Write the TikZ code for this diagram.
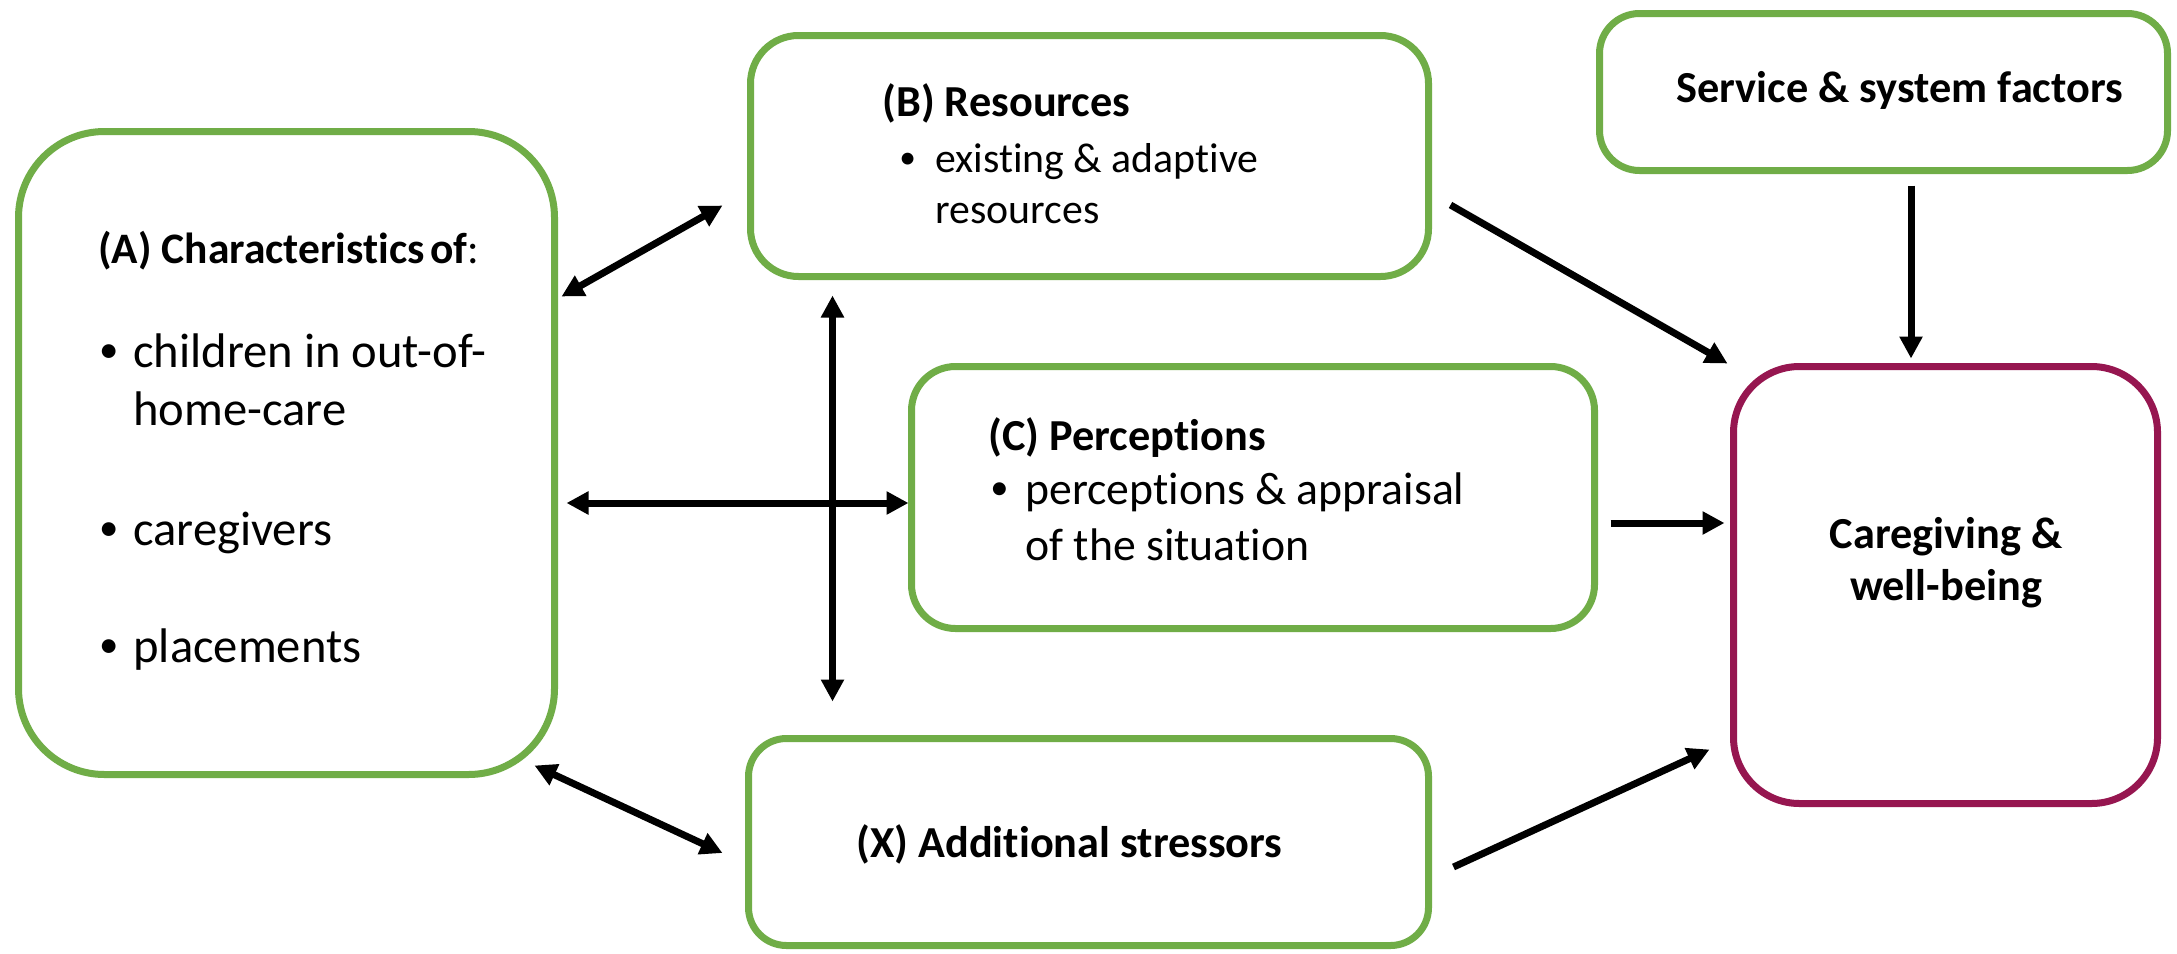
\documentclass[tikz,border=0pt]{standalone}
\usepackage{fontspec}
\setmainfont{Carlito}[Ligatures=NoCommon]
\usetikzlibrary{arrows.meta,calc}
\definecolor{boxgreen}{RGB}{112,173,71}
\definecolor{berry}{RGB}{150,22,80}
\newcommand{\bul}[1]{\llap{\makebox[#1][l]{\raisebox{0.09em}{\scalebox{0.8}{•}}}}}
\begin{document}
\begin{tikzpicture}[x=0.5pt,y=-0.5pt,
  box/.style={draw=boxgreen,line width=3.5pt,inner sep=0pt,fill=white},
  txtA/.style={anchor=base west,inner sep=0pt,font=\fontsize{24.3pt}{29pt}\selectfont},
  txtB/.style={anchor=base west,inner sep=0pt,font=\fontsize{20.9pt}{27pt}\selectfont},
  txtC/.style={anchor=base west,inner sep=0pt,font=\fontsize{22.85pt}{27pt}\selectfont},
  ttlA/.style={anchor=base west,inner sep=0pt,font=\fontsize{21.75pt}{27pt}\selectfont\bfseries},
  ttl/.style={anchor=base west,inner sep=0pt,font=\fontsize{22.15pt}{27pt}\selectfont\bfseries},
  link/.style={line width=3.5pt,-{Triangle[length=11pt,width=11pt]}},
  dlink/.style={line width=3.5pt,{Triangle[length=11pt,width=11pt]}-{Triangle[length=11pt,width=11pt]}}
]
\useasboundingbox (0,0) rectangle (2177,953);
\fill[white] (0,0) rectangle (2177,953);

% boxes
\node[box,rounded corners=43pt,minimum width=268pt,minimum height=321.5pt] (A) at (286.5,453) {};
\node[box,rounded corners=24pt,minimum width=339pt,minimum height=120.5pt] (B) at (1089.5,156) {};
\node[box,rounded corners=22pt,minimum width=341.5pt,minimum height=131pt] (C) at (1253,497.5) {};
\node[box,rounded corners=19pt,minimum width=340pt,minimum height=103.5pt] (X) at (1088.5,842) {};
\node[box,rounded corners=20pt,minimum width=284pt,minimum height=78.5pt] (S) at (1883.5,92) {};
\node[box,draw=berry,rounded corners=33pt,minimum width=212pt,minimum height=218.5pt] (W) at (1945.5,585) {};

% texts A
\node[ttlA] (Atitle) at (98,263) {(A) Characteristics\hspace{-0.1em} of\textmd{:}};
\node[txtA] (A1) at (133,367) {\bul{17pt}children in out-of-};
\node[txtA] (A1b) at (133,425) {home-care};
\node[txtA] (A2) at (133,545) {\bul{17pt}caregivers};
\node[txtA] (A3) at (133,662) {\bul{17pt}placements};

% texts B
\node[ttl] (Btitle) at (882,116) {(B) Resources};
\node[txtB] (B1) at (935,172) {\bul{18pt}existing \& adaptive};
\node[txtB] (B1b) at (935,223) {resources};

% texts C
\node[ttl] (Ctitle) at (988,450) {(C) Perceptions};
\node[txtC] (C1) at (1025,504) {\bul{17.5pt}perceptions \& appraisal};
\node[txtC] (C1b) at (1025,560) {of the situation};

% texts X, S, W
\node[ttl] (Xtitle) at (856,857) {(X) Additional stressors};
\node[ttl] (Stitle) at (1676,102) {Service \& system factors};
\node[ttl,anchor=base] (W1) at (1946,548) {Caregiving \&};
\node[ttl,anchor=base] (W2) at (1946,600) {well-being};

% connectors
\draw[dlink] ($(A.north east)+(3.5,168.5)$) -- ($(B.north west)+(-24.5,173.5)$);
\draw[dlink] ($(A.east)+(8.5,50)$) -- ($(C.west)+(0.5,5.5)$);
\draw[dlink] ($(B.south west)+(85.5,15.5)$) -- ($(X.north west)+(87.5,-33.5)$);
\draw[dlink] ($(A.south east)+(-23.5,-12.5)$) -- ($(X.west)+(-22.5,11)$);
\draw[link] ($(B.east)+(18.5,49)$) -- ($(W.north west)+(-2.5,0.5)$);
\draw[link] ($(C.east)+(12.5,25.5)$) -- ($(W.west)+(-5.5,-62)$);
\draw[link] ($(X.east)+(21.5,25)$) -- ($(W.south west)+(-20.5,-57.5)$);
\draw[link] ($(S.south)+(27.5,11.5)$) -- ($(W.north)+(-34.5,-4.5)$);
\end{tikzpicture}
\end{document}
